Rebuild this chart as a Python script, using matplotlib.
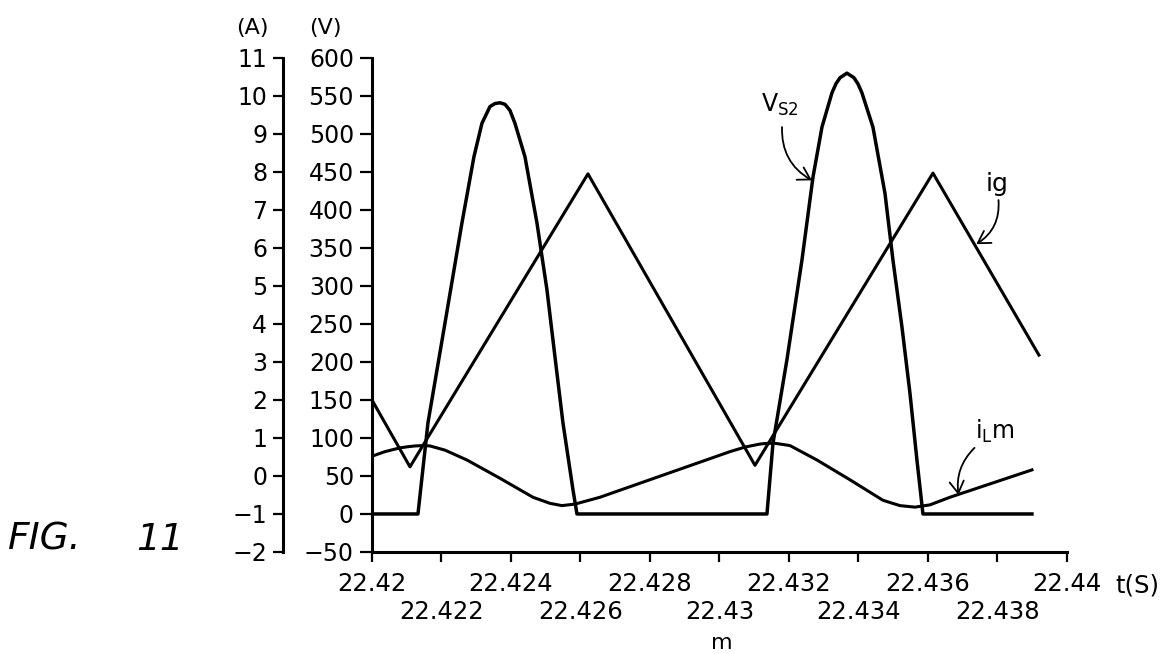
import matplotlib
matplotlib.use('Agg')
import matplotlib.pyplot as plt
from matplotlib.ticker import FixedLocator, FixedFormatter

plt.rcParams.update({
    'font.family': 'DejaVu Sans',
    'font.size': 17,
    'mathtext.default': 'regular',
})

# V_S2 switch voltage (V)
vs2_t = [22.42, 22.421324, 22.421612, 22.422101, 22.42259, 22.422935,
         22.423165, 22.423396, 22.42354, 22.423683, 22.423828, 22.423971,
         22.424115, 22.424403, 22.424748,
         22.425036, 22.425266, 22.425496, 22.425784, 22.425899,
         22.431367, 22.43154, 22.431942, 22.432374, 22.432691, 22.43295,
         22.433237, 22.433352, 22.43347, 22.433669, 22.43387, 22.433985,
         22.434101, 22.434417, 22.434763, 22.434993,
         22.435252, 22.435482, 22.435683, 22.435856, 22.438993]
vs2_v = [0, 0, 120, 251, 383, 470,
         514, 536, 540, 541, 539, 531,
         514, 470, 383,
         295, 207, 120, 32, 0,
         0, 93, 203, 334, 443, 509,
         554, 566, 574, 580, 574, 566,
         554, 509, 422, 334,
         246, 159, 71, 0, 0]

# i_g (A)
ig_t = [22.42, 22.421094, 22.426216, 22.431022, 22.436144, 22.439194]
ig_a = [2.0, 0.24, 7.95, 0.28, 7.97, 3.18]

# i_Lm (A)
ilm_t = [22.42, 22.420374, 22.420806, 22.421036, 22.421237, 22.421468,
         22.421669, 22.422101, 22.422734, 22.423683, 22.424633, 22.425122,
         22.425468, 22.425842, 22.426561, 22.430302, 22.430734, 22.431166,
         22.431391, 22.431597, 22.432029, 22.432806, 22.433755, 22.434705,
         22.435194, 22.435626, 22.436058, 22.436633, 22.438993]
ilm_a = [0.52, 0.64, 0.74, 0.77, 0.79, 0.80,
         0.79, 0.68, 0.42, -0.06, -0.56, -0.72,
         -0.78, -0.74, -0.56, 0.64, 0.76, 0.84,
         0.86, 0.86, 0.80, 0.42, -0.10, -0.64,
         -0.78, -0.82, -0.76, -0.56, 0.16]

x_major = [22.42, 22.424, 22.428, 22.432, 22.436, 22.44]
x_major_labels = ['22.42', '22.424', '22.428', '22.432', '22.436', '22.44']
x_minor = [22.422, 22.426, 22.43, 22.434, 22.438]
x_minor_labels = ['22.422', '22.426', '22.43', '22.434', '22.438']
v_ticks = [-50, 0, 50, 100, 150, 200, 250, 300, 350, 400, 450, 500, 550, 600]
a_ticks = [-2, -1, 0, 1, 2, 3, 4, 5, 6, 7, 8, 9, 10, 11]

LW = 2.2
fig = plt.figure(figsize=(11.62, 6.54), dpi=100)
ax = fig.add_axes([0.3201, 0.1560, 0.5981, 0.7554])

# voltage axis
ax.plot(vs2_t, vs2_v, color='black', lw=LW + 0.3)
ax.set_xlim(22.42, 22.44)
ax.set_ylim(-50, 600)
ax.spines['top'].set_visible(False)
ax.spines['right'].set_visible(False)
for s in ('left', 'bottom'):
    ax.spines[s].set_linewidth(LW)
ax.yaxis.set_major_locator(FixedLocator(v_ticks))
ax.tick_params(axis='y', direction='out', length=9, width=1.6, pad=4,
               labelsize=17)

# two rows of time labels
ax.xaxis.set_major_locator(FixedLocator(x_major))
ax.xaxis.set_major_formatter(FixedFormatter(x_major_labels))
ax.xaxis.set_minor_locator(FixedLocator(x_minor))
ax.xaxis.set_minor_formatter(FixedFormatter(x_minor_labels))
ax.tick_params(axis='x', which='major', direction='out', length=7.5,
               width=1.6, pad=7, labelsize=17.5)
ax.tick_params(axis='x', which='minor', direction='out', length=7.5,
               width=1.6, pad=27, labelsize=17.5)

# current axis, offset to the left
ax2 = ax.twinx()
ax2.plot(ig_t, ig_a, color='black', lw=LW)
ax2.plot(ilm_t, ilm_a, color='black', lw=LW)
ax2.set_ylim(-2, 11)
for s in ('top', 'bottom', 'right'):
    ax2.spines[s].set_visible(False)
ax2.spines['left'].set_visible(True)
ax2.spines['left'].set_position(('outward', 64))
ax2.spines['left'].set_linewidth(LW)
ax2.yaxis.set_ticks_position('left')
ax2.yaxis.set_label_position('left')
ax2.yaxis.set_major_locator(FixedLocator(a_ticks))
ax2.tick_params(axis='y', direction='out', length=7.5, width=1.6, pad=4,
                labelsize=17)

# unit labels
fig.text(252 / 1162, 1 - 28 / 654, '(A)', ha='center', va='center', fontsize=16)
fig.text(325 / 1162, 1 - 28 / 654, '(V)', ha='center', va='center', fontsize=16)
fig.text(1137 / 1162, 1 - 585 / 654, 't(S)', ha='center', va='center',
         fontsize=17.5)
fig.text(722 / 1162, 1 - 643 / 654, 'm', ha='center', va='center', fontsize=16)
fig.text(45 / 1162, 1 - 540 / 654, 'FIG.', ha='center', va='center',
         fontsize=27, style='italic')
fig.text(160 / 1162, 1 - 540 / 654, '11', ha='center', va='center',
         fontsize=27, style='italic')

# curve labels with curved arrows
arrow = dict(arrowstyle='->,head_length=0.5,head_width=0.3', color='black',
             lw=1.3, shrinkA=0, shrinkB=0)
ax.text(22.43175, 538, r'$V_{S2}$', ha='center', va='center', fontsize=17)
ax.annotate('', xy=(22.43266, 439), xytext=(22.43180, 509),
            arrowprops=dict(arrow, connectionstyle='arc3,rad=0.3'))
ax.text(22.43800, 434, 'ig', ha='center', va='center', fontsize=18)
ax.annotate('', xy=(22.43739, 355), xytext=(22.43803, 413),
            arrowprops=dict(arrow, connectionstyle='arc3,rad=-0.3'))
ax.text(22.43793, 108, r'$i_{L}m$', ha='center', va='center', fontsize=17)
ax.annotate('', xy=(22.43688, 25), xytext=(22.43734, 87),
            arrowprops=dict(arrow, connectionstyle='arc3,rad=0.25'))

fig.savefig('out.png', dpi=100)
